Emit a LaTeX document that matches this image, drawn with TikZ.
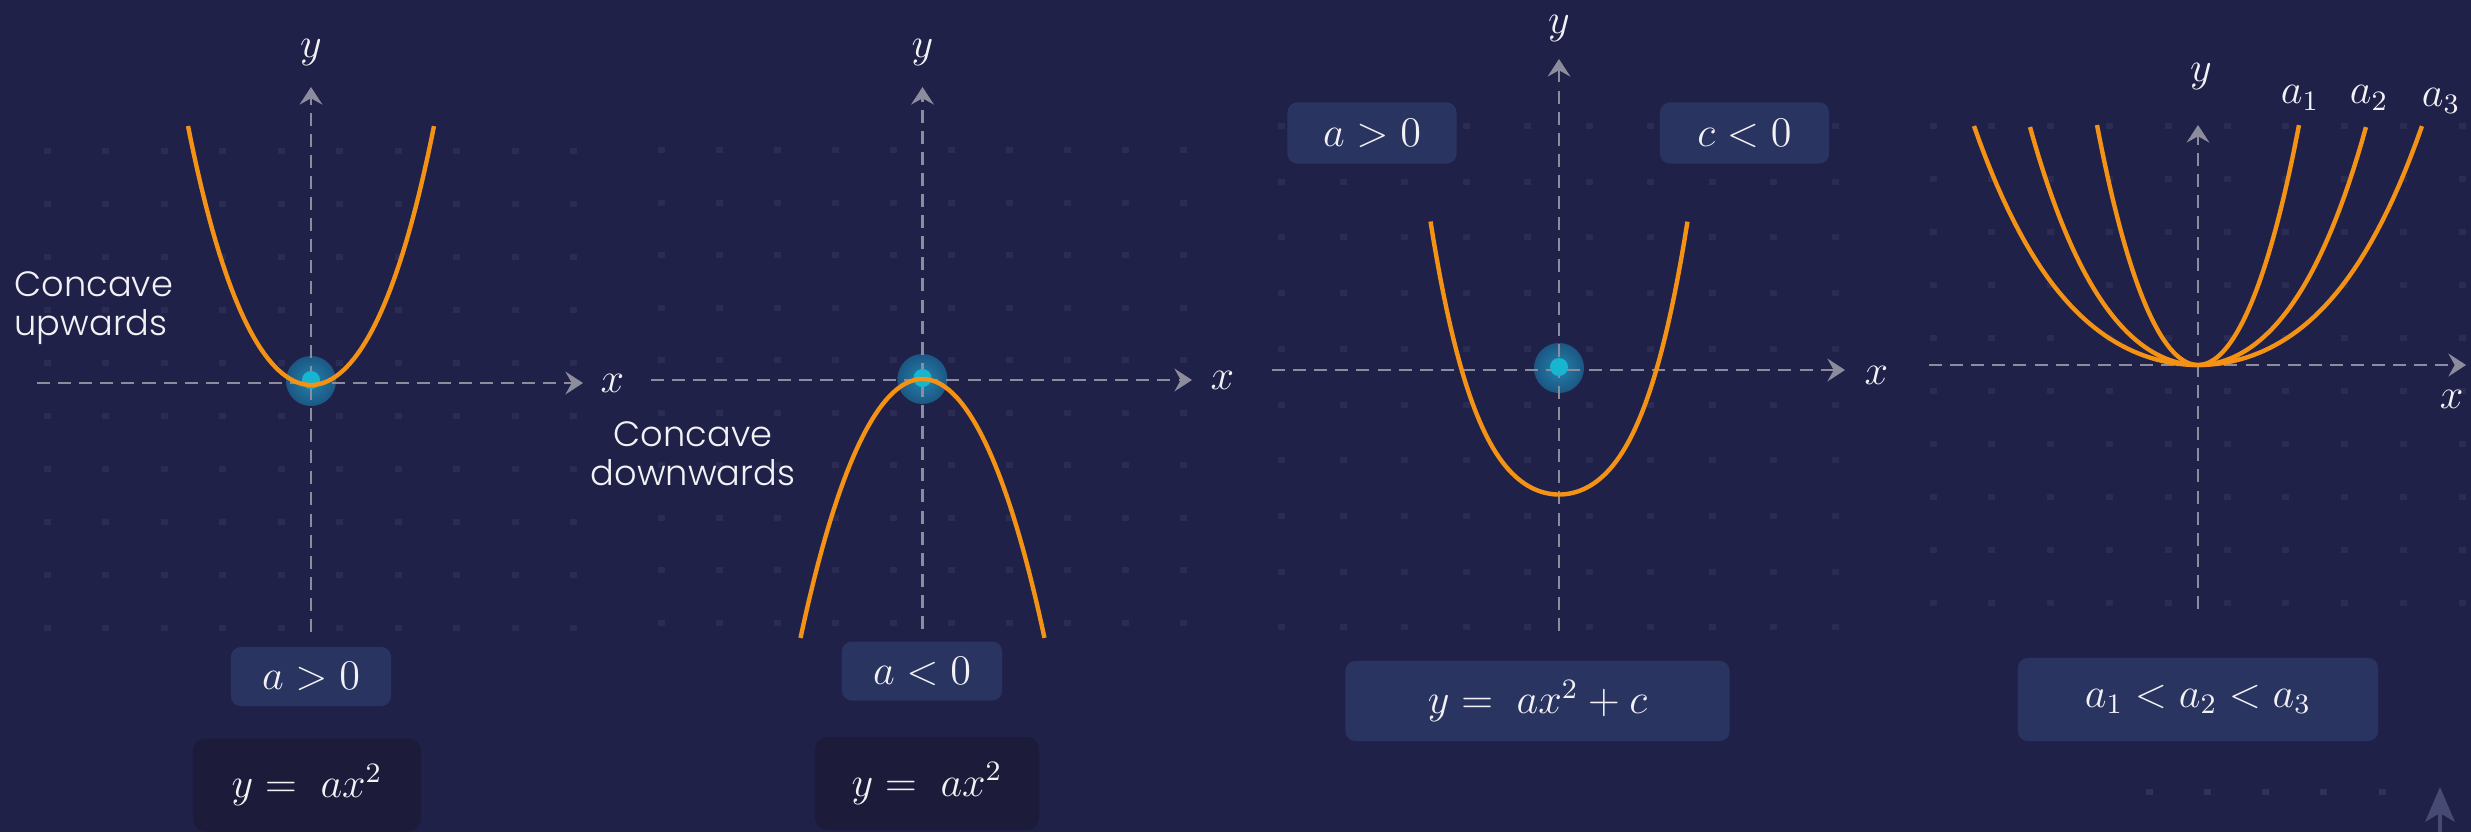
\documentclass[tikz,border=0pt]{standalone}
\usepackage[no-math]{fontspec}
\usepackage{amsmath}
\usetikzlibrary{arrows.meta,positioning}
\newfontfamily\capfont{Poppins Light}
\definecolor{pbBack}  {HTML}{1F2149}
\definecolor{pbCond}  {HTML}{2A3461}
\definecolor{pbEqn}   {HTML}{1C1C3A}
\definecolor{pbCurve} {HTML}{F39214}
\definecolor{pbAxis}  {HTML}{8C8C9C}
\definecolor{pbDot}   {HTML}{17B5CF}
\definecolor{pbHaloIn}{HTML}{1F85AE}
\definecolor{pbHalo}  {HTML}{1D5683}
\definecolor{pbGrid}  {HTML}{2A2C53}
\definecolor{pbFaint} {HTML}{474A72}
\definecolor{pbText}  {HTML}{F2F2F5}
\newcommand{\gridpts}[4]{%
  \foreach \i in {0,...,9}{\foreach \j in {0,...,9}{
    \fill[pbGrid] ({#1+#2*\i-3.5},{#3+#4*\j-3}) rectangle ++(7,6);}}}
\newcommand{\vtx}[1]{%
  \shade[inner color=pbHaloIn,outer color=pbHalo] #1 circle (0.25cm);}

\begin{document}
\begin{tikzpicture}[x=0.01cm,y=-0.01cm,
      axis/.style={draw=pbAxis,line width=0.6pt,dash pattern=on 3.7pt off 2.3pt,
                   -{Stealth[length=5pt,width=6.5pt,inset=1.8pt]}},
      curve/.style={draw=pbCurve,line width=1.25pt},
      cond/.style={fill=pbCond,rounded corners=2.8pt,text=pbText,
                   minimum width=1.6cm,minimum height=0.59cm,font=\fontsize{11.5}{13}\selectfont},
      eqn/.style={fill=pbEqn,rounded corners=3.5pt,text=pbText,
                  minimum width=2.28cm,minimum height=0.93cm,font=\fontsize{11.5}{13}\selectfont},
      mlbl/.style={text=pbText,inner sep=0pt,font=\fontsize{11.5}{13}\selectfont},
      captxt/.style={text=pbText,inner sep=0pt,font=\capfont\fontsize{10}{11}\selectfont}]
    \useasboundingbox[fill=pbBack] (0,0) rectangle (2471,832);
    % dotted backdrop
    \gridpts{47.4}{58.5}{151}{53}
    \gridpts{661}{58}{150}{52.5}
    \gridpts{1281.5}{61.5}{126}{55.7}
    \gridpts{1933}{58.8}{126}{53}
    \foreach \k in {0,...,4}
      \fill[pbGrid!80!pbFaint] ({2149+58.3*\k-3.5},789) rectangle ++(7,6);
    \fill[pbFaint] (2440,787) -- (2455,822) -- (2440,813) -- (2425,822) -- cycle;
    \draw[pbFaint,line width=1pt] (2440,813) -- (2440,832);

    % panel 1: a>0
    \vtx{(311,381)}
    \coordinate (x1s) at (37,383);  \coordinate (x1e) at (583,383);
    \coordinate (y1s) at (311,632); \coordinate (y1e) at (311,87);
    \draw[axis] (x1s) -- (x1e);
    \draw[axis] (y1s) -- (y1e);
    \fill[pbDot] (311,380) circle (0.09cm);
    \draw[curve] plot[domain=-1:1,samples=80,variable=\t]
      ({311+123*\t},{385-259*(0.81*\t*\t+0.19*\t*\t*\t*\t)});
    \node[mlbl,above=0.21cm of y1e] (ylab1) {$y$};
    \node[mlbl,right=0.17cm of x1e] (xlab1) {$x$};
    \node[captxt,anchor=north west,align=left] (up) at (14,271) {Concave\\upwards};
    \node[cond] (c1) at (311,676.5) {$a>0$};
    \node[eqn,below=0.31cm of c1,xshift=-0.04cm] (e1) {$y = \;ax^2$};

    % panel 2: a<0
    \vtx{(922.5,379)}
    \coordinate (x2s) at (651,380);   \coordinate (x2e) at (1192,380);
    \coordinate (y2s) at (922.5,629); \coordinate (y2e) at (922.5,87);
    \draw[axis] (x2s) -- (x2e);
    \draw[axis] (y2s) -- (y2e);
    \fill[pbDot] (922.5,378) circle (0.09cm);
    \draw[curve] plot[domain=-1:1,samples=80,variable=\t]
      ({922.5+122*\t},{379+259*(0.9*\t*\t+0.1*\t*\t*\t*\t)});
    \node[mlbl,above=0.21cm of y2e] (ylab2) {$y$};
    \node[mlbl,right=0.18cm of x2e] (xlab2) {$x$};
    \node[captxt,anchor=north,align=center] (down) at (693,421) {Concave\\downwards};
    \node[cond] (c2) at (922,671) {$a<0$};
    \node[eqn,below=0.35cm of c2,xshift=0.05cm,minimum width=2.24cm] (e2) {$y = \;ax^2$};

    % panel 3: shift by c
    \vtx{(1559,368)}
    \coordinate (x3s) at (1272,370);  \coordinate (x3e) at (1845,370);
    \coordinate (y3s) at (1559,631);  \coordinate (y3e) at (1559,59);
    \draw[axis] (x3s) -- (x3e);
    \draw[axis] (y3s) -- (y3e);
    \fill[pbDot] (1559,367) circle (0.09cm);
    \draw[curve] plot[domain=-1:1,samples=80,variable=\t]
      ({1559+128.5*\t},{494.5-273*(0.52*\t*\t+0.48*\t*\t*\t*\t)});
    \node[mlbl,above=0.17cm of y3e] (ylab3) {$y$};
    \node[mlbl,right=0.19cm of x3e,yshift=-0.05cm] (xlab3) {$x$};
    \node[cond,minimum width=1.69cm,minimum height=0.61cm] (c3a) at (1372,133) {$a>0$};
    \node[cond,minimum width=1.69cm,minimum height=0.61cm] (c3c) at (1744.5,133) {$c<0$};
    \node[cond,minimum width=3.84cm,minimum height=0.8cm] (e3) at (1537.5,701) {$y = \;ax^2+c$};

    % panel 4: growing a
    \coordinate (x4s) at (1929,365);  \coordinate (x4e) at (2466,365);
    \coordinate (y4s) at (2198,609);  \coordinate (y4e) at (2198,125);
    \draw[axis] (x4s) -- (x4e);
    \draw[axis] (y4s) -- (y4e);
    \draw[curve] plot[domain=-1:1,samples=80,variable=\t]
      ({2198+101*\t},{365-240*(0.9*\t*\t+0.1*\t*\t*\t*\t)});
    \draw[curve] plot[domain=-1:1,samples=80,variable=\t]
      ({2198+168*\t},{365-238*(0.73*\t*\t+0.27*\t*\t*\t*\t)});
    \draw[curve] plot[domain=-1:1,samples=80,variable=\t]
      ({2198+224*\t},{365-239*(0.66*\t*\t+0.34*\t*\t*\t*\t)});
    \node[mlbl,above=0.35cm of y4e,xshift=0.03cm] (ylab4) {$y$};
    \node[mlbl,below left=0.25cm and 0.02cm of x4e] (xlab4) {$x$};
    \node[mlbl] (la1) at (2300,98)  {$a_1$};
    \node[mlbl] (la2) at (2369,98)  {$a_2$};
    \node[mlbl] (la3) at (2441,101) {$a_3$};
    \node[cond,minimum width=3.6cm,minimum height=0.83cm] (e4) at (2198,699.5) {$a_1<a_2<a_3$};
  \end{tikzpicture}
\end{document}
